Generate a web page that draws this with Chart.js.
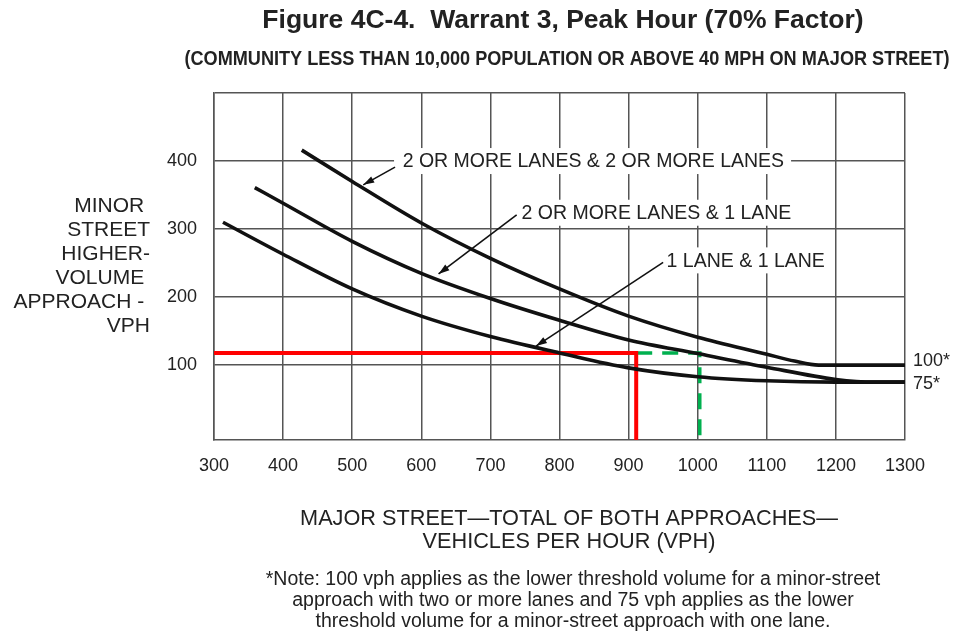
<!DOCTYPE html>
<html>
<head>
<meta charset="utf-8">
<script src="https://cdn.jsdelivr.net/npm/chart.js@4.4.1/dist/chart.umd.min.js"></script>
<style>
  html, body { margin: 0; padding: 0; background: #fff; }
  #wrap { width: 955px; height: 634px; position: relative; }
</style>
</head>
<body>
<div id="wrap"><canvas id="warrantChart"></canvas></div>
<script>
// --- data (major street vph -> minor street vph) ---
const majorTwoTwo = [427, 500, 600, 700, 800, 900, 1000, 1100, 1140, 1175, 1300];
const minorTwoTwo = [416, 370, 309, 257, 212, 172, 141, 116, 106, 100, 100];

const majorTwoOne = [359, 400, 500, 600, 700, 800, 900, 1000, 1100, 1200, 1255, 1300];
const minorTwoOne = [361, 338, 282, 235, 198, 166, 137, 117, 97, 79, 75, 75];

const majorOneOne = [313, 400, 500, 600, 700, 800, 900, 1000, 1100, 1200, 1300];
const minorOneOne = [310, 263, 212, 172, 142, 118, 96, 83, 77, 75, 75];

// example site (red) and alternative (green dashed)
const majorSite = [300, 911, 911];
const minorSite = [118, 118, -10];
const majorAlt = [911, 1003, 1003];
const minorAlt = [118, 118, -10];

const xTicks = [300, 400, 500, 600, 700, 800, 900, 1000, 1100, 1200, 1300];
const yTicks = [100, 200, 300, 400, 500];

const curveLabels = ['2 OR MORE LANES & 2 OR MORE LANES', '2 OR MORE LANES & 1 LANE', '1 LANE & 1 LANE'];
const thresholdLabels = ['100*', '75*'];

const FONT = '"Liberation Sans", Arial, Helvetica, sans-serif';
const INK = '#222';

const pairs = (xs, ys) => xs.map((x, i) => ({ x: x, y: ys[i] }));

// where each curve label sits, in data units (text left/middle, arrow tail, arrow tip)
const labelSpots = [
    { at: [573, 400], tail: [562, 391], tip: [516, 365] },
    { at: [745, 324], tail: [738, 321], tip: [625, 234] },
    { at: [955, 254], tail: [950, 251], tip: [766, 128] }
];

function arrow(ctx, x1, y1, x2, y2) {
    ctx.beginPath();
    ctx.moveTo(x1, y1);
    ctx.lineTo(x2, y2);
    ctx.stroke();
    const ang = Math.atan2(y2 - y1, x2 - x1);
    const len = 11, half = 3.5;
    ctx.beginPath();
    ctx.moveTo(x2, y2);
    ctx.lineTo(x2 - len * Math.cos(ang) + half * Math.sin(ang), y2 - len * Math.sin(ang) - half * Math.cos(ang));
    ctx.lineTo(x2 - len * Math.cos(ang) - half * Math.sin(ang), y2 - len * Math.sin(ang) + half * Math.cos(ang));
    ctx.closePath();
    ctx.fill();
}

const figureText = {
    id: 'figureText',
    afterDatasetsDraw(chart) {
        const ctx = chart.ctx;
        const xs = chart.scales.x, ys = chart.scales.y;
        ctx.save();
        ctx.font = '19.5px ' + FONT;
        ctx.textBaseline = 'middle';
        ctx.textAlign = 'left';
        labelSpots.forEach((s, i) => {
            const tx = xs.getPixelForValue(s.at[0]);
            const ty = ys.getPixelForValue(s.at[1]);
            const w = ctx.measureText(curveLabels[i]).width;
            const ax = xs.getPixelForValue(s.tail[0]);
            ctx.fillStyle = '#fff';
            ctx.fillRect(ax - 1, ty - 13, (tx - ax) + w + 8, 26);
            ctx.fillStyle = INK;
            ctx.fillText(curveLabels[i], tx, ty + 1);
            ctx.strokeStyle = '#111';
            ctx.fillStyle = '#111';
            ctx.lineWidth = 1.6;
            arrow(ctx, ax, ys.getPixelForValue(s.tail[1]), xs.getPixelForValue(s.tip[0]), ys.getPixelForValue(s.tip[1]));
        });
        ctx.restore();
    },
    afterDraw(chart) {
        const ctx = chart.ctx;
        const area = chart.chartArea;
        const ys = chart.scales.y;
        ctx.save();
        ctx.fillStyle = INK;
        ctx.textBaseline = 'middle';

        ctx.textAlign = 'center';
        ctx.font = 'bold 26.5px ' + FONT;
        ctx.fillText('Figure 4C-4.  Warrant 3, Peak Hour (70% Factor)', 563, 21, 604);
        ctx.font = 'bold 20px ' + FONT;
        ctx.fillText('(COMMUNITY LESS THAN 10,000 POPULATION OR ABOVE 40 MPH ON MAJOR STREET)', 567, 59, 765);

        ctx.textAlign = 'right';
        ctx.font = '21px ' + FONT;
        ['MINOR ', 'STREET', 'HIGHER-', 'VOLUME ', 'APPROACH - ', 'VPH'].forEach((t, i) => {
            ctx.fillText(t, 150, 206 + i * 24);
        });

        ctx.textAlign = 'left';
        ctx.font = '18px ' + FONT;
        ctx.fillText(thresholdLabels[0], area.right + 8, ys.getPixelForValue(100) - 4);
        ctx.fillText(thresholdLabels[1], area.right + 8, ys.getPixelForValue(75) + 2);

        ctx.textAlign = 'center';
        ctx.font = '21.7px ' + FONT;
        ctx.fillText('MAJOR STREET\u2014TOTAL OF BOTH APPROACHES\u2014', 569, 519);
        ctx.fillText('VEHICLES PER HOUR (VPH)', 569, 542);

        ctx.font = '19.5px ' + FONT;
        ctx.fillText('*Note: 100 vph applies as the lower threshold volume for a minor-street', 573, 580);
        ctx.fillText('approach with two or more lanes and 75 vph applies as the lower', 573, 601);
        ctx.fillText('threshold volume for a minor-street approach with one lane.', 573, 622);
        ctx.restore();
    }
};

const curveStyle = {
    borderColor: '#111',
    borderWidth: 3.6,
    pointRadius: 0,
    fill: false,
    cubicInterpolationMode: 'monotone'
};

new Chart(document.getElementById('warrantChart'), {
    type: 'line',
    data: {
        datasets: [
            Object.assign({ label: curveLabels[0], data: pairs(majorTwoTwo, minorTwoTwo) }, curveStyle),
            Object.assign({ label: curveLabels[1], data: pairs(majorTwoOne, minorTwoOne) }, curveStyle),
            Object.assign({ label: curveLabels[2], data: pairs(majorOneOne, minorOneOne) }, curveStyle),
            {
                label: 'site',
                data: pairs(majorSite, minorSite),
                borderColor: '#ff0000',
                borderWidth: 4,
                pointRadius: 0,
                tension: 0,
                clip: false
            },
            {
                label: 'alternative',
                data: pairs(majorAlt, minorAlt),
                borderColor: '#00b04f',
                borderWidth: 3.5,
                borderDash: [16, 10],
                pointRadius: 0,
                tension: 0
            }
        ]
    },
    options: {
        responsive: true,
        maintainAspectRatio: false,
        animation: false,
        layout: { padding: { left: 0, top: 93, right: 50, bottom: 154 } },
        scales: {
            x: {
                type: 'linear',
                min: 300,
                max: 1300,
                afterBuildTicks: (scale) => { scale.ticks = xTicks.map(v => ({ value: v })); },
                afterFit: (scale) => { scale.height = 40; },
                grid: { color: '#555', lineWidth: 1.5, drawTicks: false },
                border: { color: '#555', width: 1.5 },
                ticks: {
                    color: INK,
                    padding: 15,
                    font: { family: FONT, size: 18 },
                    maxRotation: 0,
                    callback: (v) => String(v)
                }
            },
            y: {
                min: -10,
                max: 500,
                afterBuildTicks: (scale) => { scale.ticks = yTicks.map(v => ({ value: v })); },
                afterFit: (scale) => { scale.width = 214; },
                grid: { color: '#555', lineWidth: 1.5, drawTicks: false },
                border: { color: '#555', width: 1.5 },
                ticks: {
                    color: INK,
                    padding: 17,
                    font: { family: FONT, size: 18 },
                    callback: (v) => (v === 500 ? '' : String(v))
                }
            }
        },
        plugins: {
            legend: { display: false },
            tooltip: { enabled: false }
        }
    },
    plugins: [figureText]
});
</script>
</body>
</html>
